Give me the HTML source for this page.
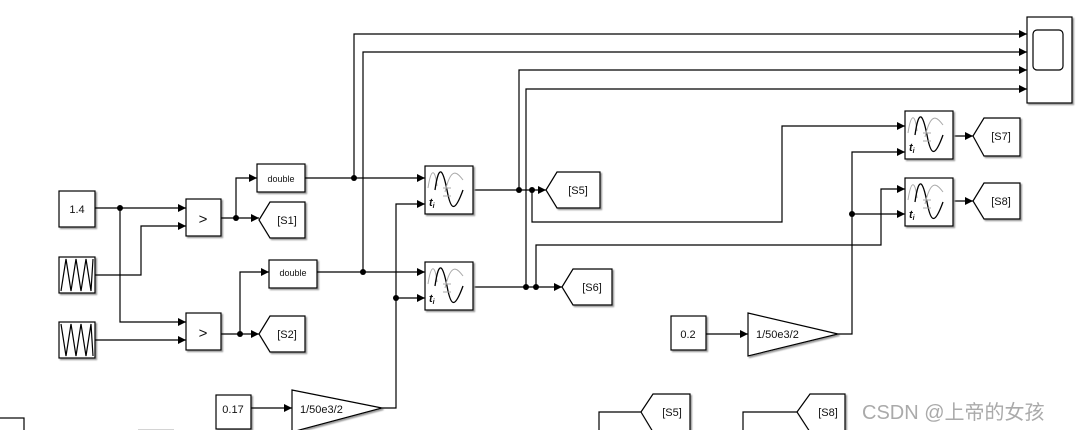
<!DOCTYPE html>
<html><head><meta charset="utf-8"><style>
html,body{margin:0;padding:0;background:#fff;}
svg{display:block;}
text{font-family:"Liberation Sans",Arial,sans-serif;fill:#111;}
</style></head><body>
<svg width="1076" height="430" viewBox="0 0 1076 430" xmlns="http://www.w3.org/2000/svg">
<defs>
<marker id="a" markerWidth="8" markerHeight="8" refX="8" refY="4" orient="auto" markerUnits="userSpaceOnUse">
<path d="M0,0 L8,4 L0,8 z" fill="#000"/></marker>
<filter id="sh" x="-10%" y="-10%" width="130%" height="130%"><feDropShadow dx="1.5" dy="1.5" stdDeviation="0.8" flood-color="#999"/></filter>
<g id="vd">
<rect x="0" y="0" width="48" height="48" fill="#fff" stroke="#000" stroke-width="1.2" filter="url(#sh)"/>
<path d="M3,22 C6,2 10,2 12,20" fill="none" stroke="#aaa"/>
<path d="M10,24 C14,-4 18,4 22,24 C26,46 30,46 38,24" fill="none" stroke="#000" stroke-width="1.3"/>
<path d="M20,26 C26,0 32,6 38,14" fill="none" stroke="#aaa"/>
<path d="M18,22 h8 M18,30 h8" stroke="#aaa"/>
<text x="4" y="40" font-size="11" font-weight="bold" font-style="italic" font-family="Liberation Serif">t<tspan font-size="7" dy="2">i</tspan></text>
</g>
</defs>
<g fill="none" stroke="#000" stroke-width="1.2">
<rect x="59" y="191" width="36" height="36" fill="#fff" filter="url(#sh)"/>
<rect x="59" y="257" width="36" height="36" fill="#fff" filter="url(#sh)"/>
<path d="M61,291 L66,259 L71,291 L76,259 L81,291 L86,259 L91,291 L93,259"/>
<rect x="59" y="322" width="36" height="36" fill="#fff" filter="url(#sh)"/>
<path d="M61,324 L66,356 L71,324 L76,356 L81,324 L86,356 L91,324 L93,356"/>
<rect x="186" y="199" width="35" height="37" fill="#fff" filter="url(#sh)"/>
<rect x="186" y="313" width="35" height="37" fill="#fff" filter="url(#sh)"/>
<rect x="257" y="164" width="48" height="28" fill="#fff" filter="url(#sh)"/>
<rect x="269" y="260" width="48" height="28" fill="#fff" filter="url(#sh)"/>
<path d="M259,220 L270,202 H305 V238 H270 Z" fill="#fff" filter="url(#sh)"/>
<path d="M259,334 L270,316 H305 V352 H270 Z" fill="#fff" filter="url(#sh)"/>
<rect x="216" y="395" width="35" height="34" fill="#fff" filter="url(#sh)"/>
<path d="M292,390 L382,408 L292,432 Z" fill="#fff" filter="url(#sh)"/>
<rect x="-2" y="418" width="26" height="20" fill="#fff"/>
<path d="M138,430 H174" stroke="#bbb"/>
<path d="M95,208 H186" marker-end="url(#a)"/>
<path d="M120,208 V322 H186" marker-end="url(#a)"/>
<path d="M95,275 H141 V226 H186" marker-end="url(#a)"/>
<path d="M95,340 H186" marker-end="url(#a)"/>
<path d="M221,218 H259" marker-end="url(#a)"/>
<path d="M236,218 V178 H257" marker-end="url(#a)"/>
<path d="M221,334 H259" marker-end="url(#a)"/>
<path d="M240,334 V272 H269" marker-end="url(#a)"/>
<path d="M305,178 H425" marker-end="url(#a)"/>
<path d="M317,272 H425" marker-end="url(#a)"/>
<path d="M354,178 V34 H1027" marker-end="url(#a)"/>
<path d="M363,272 V52 H1027" marker-end="url(#a)"/>
<path d="M251,408 H292" marker-end="url(#a)"/>
<path d="M382,408 H396 V204 H425" marker-end="url(#a)"/>
<path d="M396,298 H425" marker-end="url(#a)"/>
<path d="M473,190 H546" marker-end="url(#a)"/>
<path d="M473,287 H562" marker-end="url(#a)"/>
<path d="M519,190 V70 H1027" marker-end="url(#a)"/>
<path d="M526,287 V89 H1027" marker-end="url(#a)"/>
<path d="M532,190 V222 H782 V126 H905" marker-end="url(#a)"/>
<path d="M536,287 V245 H881 V189 H905" marker-end="url(#a)"/>
<path d="M546,190 L557,172 H600 V208 H557 Z" fill="#fff" filter="url(#sh)"/>
<path d="M562,287 L573,269 H612 V305 H573 Z" fill="#fff" filter="url(#sh)"/>
<rect x="671" y="316" width="35" height="34" fill="#fff" filter="url(#sh)"/>
<path d="M748,313 L838,334 L748,356 Z" fill="#fff" filter="url(#sh)"/>
<path d="M706,334 H748" marker-end="url(#a)"/>
<path d="M838,334 H852 V152 H905" marker-end="url(#a)"/>
<path d="M852,214 H905" marker-end="url(#a)"/>
<path d="M953,136 H973" marker-end="url(#a)"/>
<path d="M953,201 H973" marker-end="url(#a)"/>
<path d="M973,136 L984,118 H1020 V156 H984 Z" fill="#fff" filter="url(#sh)"/>
<path d="M973,201 L984,183 H1020 V219 H984 Z" fill="#fff" filter="url(#sh)"/>
<rect x="1027" y="17" width="45" height="86" fill="#fff" filter="url(#sh)"/>
<rect x="1033" y="30" width="30" height="40" rx="4"/>
<path d="M599,432 V412 H641"/>
<path d="M641,412 L653,394 H690 V432 H653 Z" fill="#fff" filter="url(#sh)"/>
<path d="M743,432 V412 H797"/>
<path d="M797,412 L810,394 H845 V432 H810 Z" fill="#fff" filter="url(#sh)"/>
</g>
<use href="#vd" x="425" y="166"/>
<use href="#vd" x="425" y="262"/>
<use href="#vd" x="905" y="111"/>
<use href="#vd" x="905" y="178"/>
<g fill="#000">
<circle cx="120" cy="208" r="3"/><circle cx="236" cy="218" r="3"/><circle cx="240" cy="334" r="3"/>
<circle cx="354" cy="178" r="3"/><circle cx="363" cy="272" r="3"/><circle cx="396" cy="298" r="3"/>
<circle cx="519" cy="190" r="3"/><circle cx="532" cy="190" r="3"/>
<circle cx="526" cy="287" r="3"/><circle cx="536" cy="287" r="3"/>
<circle cx="852" cy="214" r="3"/>
</g>
<g font-size="11">
<text x="77" y="213" text-anchor="middle">1.4</text>
<text x="203" y="224" text-anchor="middle" font-size="15">&gt;</text>
<text x="203" y="338" text-anchor="middle" font-size="15">&gt;</text>
<text x="281" y="182" text-anchor="middle" font-size="9">double</text>
<text x="293" y="276" text-anchor="middle" font-size="9">double</text>
<text x="287" y="224" text-anchor="middle">[S1]</text>
<text x="287" y="338" text-anchor="middle">[S2]</text>
<text x="233" y="413" text-anchor="middle">0.17</text>
<text x="300" y="413">1/50e3/2</text>
<text x="578" y="194" text-anchor="middle">[S5]</text>
<text x="592" y="291" text-anchor="middle">[S6]</text>
<text x="688" y="338" text-anchor="middle">0.2</text>
<text x="756" y="338">1/50e3/2</text>
<text x="1001" y="140" text-anchor="middle">[S7]</text>
<text x="1001" y="205" text-anchor="middle">[S8]</text>
<text x="672" y="416" text-anchor="middle">[S5]</text>
<text x="828" y="416" text-anchor="middle">[S8]</text>
</g>
<text x="862" y="419" font-size="20" style="fill:#aaa" font-family="Liberation Sans,'Noto Sans CJK SC',sans-serif">CSDN @上帝的女孩</text>
</svg>
</body></html>
